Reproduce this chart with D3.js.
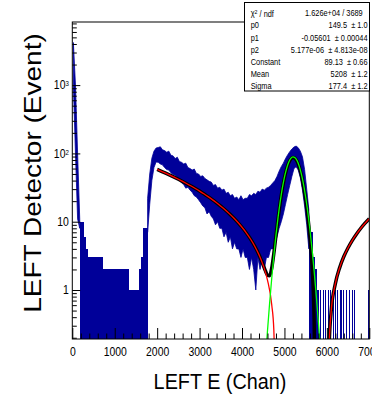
<!DOCTYPE html>
<html>
<head>
<script src="https://d3js.org/d3.v7.min.js"></script>
<style>
  body { margin: 0; background: #fff; }
  text { font-family: "Liberation Sans", Arial, sans-serif; fill: #000; white-space: pre; }
</style>
</head>
<body>
<svg width="372" height="395"></svg>
<script>
// histogram, bins of 50 channels from 0 to 7000
// each bin keeps the top and bottom of the drawn band (0 = down to the axis)
const binWidth = 50;
const histHi = [
  4200, 1000, 100, 11, 10, 6, 4, 3, 3, 2,
  3, 2, 3, 3, 2, 2, 2, 1, 2, 2,
  1, 2, 1, 2, 1, 2, 1, 1, 1, 1,
  1, 1, 2, 3, 8, 22, 50, 85, 108, 120,
  122, 125, 113, 110, 104, 108, 94, 92, 84, 88,
  76, 74, 70, 72, 62, 60, 57, 59, 51, 50,
  46, 47, 43, 41, 39, 38, 34, 35, 31, 32,
  29, 30, 26, 27, 24, 25, 22, 23, 21, 24,
  21, 22, 22, 25, 24, 26, 25, 28, 27, 30,
  29, 31, 32, 34, 37, 40, 46, 55, 64, 72,
  84, 95, 106, 116, 124, 128, 121, 108, 89, 58,
  30, 15, 7, 3, 2, 1, 0, 0, 0, 0,
  0, 0, 0, 0, 0, 0, 0, 0, 0, 0,
  0, 0, 0, 0, 0, 0, 0, 0, 0, 0
];
const histLo = [
  1000, 100, 11, 8, 0, 0, 0, 0, 0, 0,
  0, 0, 0, 0, 0, 0, 0, 0, 0, 0,
  0, 0, 0, 0, 0, 0, 0, 0, 0, 0,
  0, 0, 0, 0, 0, 7, 18, 40, 62, 75,
  74, 70, 68, 62, 58, 57, 52, 49, 48, 44,
  40, 37, 35, 31, 32, 29, 27, 24, 23, 21,
  19, 17, 16, 13, 14, 12, 11, 9, 10, 8,
  8, 6, 7, 5, 6, 4, 5, 4, 4, 3,
  4, 3, 3, 2, 3, 2, 1, 3, 2, 3,
  2, 3, 3, 4, 4, 5, 6, 8, 10, 13,
  18, 25, 34, 46, 60, 64, 57, 44, 29, 17,
  9, 4, 0, 0, 0, 0, 0, 0, 0, 0,
  0, 0, 0, 0, 0, 0, 0, 0, 0, 0,
  0, 0, 0, 0, 0, 0, 0, 0, 0, 0
];
// single counts after the peak (channel)
const sparseHits = [5790, 5840, 5900, 5960, 6020, 6080, 6150, 6200, 6240, 6300,
  6340, 6390, 6450, 6530, 6590, 6650, 6980];

// fit functions [channel, value]
const pol2Left = [[2000,58.19],[2100,54.71],[2200,51.34],[2300,48.06],[2400,44.90],[2500,41.83],
  [2600,38.87],[2700,36.01],[2800,33.26],[2900,30.61],[3000,28.06],[3100,25.62],[3200,23.28],
  [3300,21.05],[3400,18.91],[3500,16.88],[3600,14.96],[3700,13.14],[3800,11.42],[3900,9.80],
  [4000,8.29],[4100,6.88],[4200,5.58],[4300,4.38],[4400,3.28],[4500,2.29],[4600,1.40],
  [4700,0.61],[4750,0.26],[4780,0.06]];
const pol2Right = [[6040,0.065],[6050,0.13],[6100,0.48],[6200,1.24],[6300,2.11],[6400,3.09],
  [6500,4.16],[6600,5.34],[6700,6.63],[6800,8.02],[6900,9.51],[7000,11.10]];
const gausCurve = [[4550,0.092],[4600,0.251],[4650,0.633],[4700,1.477],[4750,3.181],[4800,6.328],
  [4850,11.63],[4900,19.74],[4950,30.95],[5000,44.82],[5050,59.95],[5100,74.05],[5150,84.49],
  [5200,89.04],[5250,86.67],[5300,77.91],[5350,64.70],[5400,49.62],[5450,35.15],[5500,23.00],
  [5550,13.90],[5600,7.76],[5650,4.00],[5700,1.905],[5750,0.838],[5800,0.340],[5850,0.128]];
const totalLeft = [[2000,58.19],[2100,54.71],[2200,51.34],[2300,48.06],[2400,44.90],[2500,41.83],
  [2600,38.87],[2700,36.01],[2800,33.26],[2900,30.61],[3000,28.06],[3100,25.62],[3200,23.28],
  [3300,21.05],[3400,18.91],[3500,16.88],[3600,14.96],[3700,13.14],[3800,11.42],[3900,9.80],
  [4000,8.29],[4100,6.88],[4200,5.58],[4300,4.38],[4400,3.28],[4450,2.78],[4500,2.32],
  [4550,1.92],[4600,1.65],[4650,1.62],[4700,2.09],[4750,3.44],[4800,6.26],[4850,11.26],
  [4900,19.09],[4950,30.05],[5000,43.70],[5050,58.62],[5100,72.55],[5150,82.85],[5200,87.27],
  [5250,84.81],[5300,75.98],[5350,62.73],[5400,47.63],[5450,33.17],[5500,21.05],[5550,12.01],
  [5600,5.95],[5650,2.31],[5700,0.345],[5710,0.10]];
const totalRight = pol2Right;

// axis ticks
const xTicks = [0, 1000, 2000, 3000, 4000, 5000, 6000, 7000];
const yTicks = [1, 10, 100, 1000];

// stats box
const statLabels = ["χ2 / ndf", "p0", "p1", "p2", "Constant", "Mean", "Sigma"];
const statValues = ["1.626e+04 / 3689", "149.5  ± 1.0", "-0.05601  ± 0.00044",
  "5.177e-06  ± 4.813e-08", "89.13  ± 0.66", "5208  ± 1.2", "177.4  ± 1.2"];

const blue = '#000099';
const fLeft = 72.3, fRight = 369.3, fTop = 22, fBottom = 339;
const squeeze = 0.87;

const svg = d3.select('svg');

const x = d3.scaleLinear().domain([0, 7000]).range([fLeft, fRight]);
const y = d3.scaleLog().domain([0.1917, 8395]).range([fBottom, fTop]);

svg.append('clipPath').attr('id', 'frame')
  .append('rect').attr('x', fLeft).attr('y', fTop)
  .attr('width', fRight - fLeft).attr('height', fBottom - fTop);

const plot = svg.append('g').attr('clip-path', 'url(#frame)');

// histogram
const bins = histHi.map((h, i) => ({ x0: i * binWidth, hi: h, lo: histLo[i] }));

// bins that reach zero: filled down to the axis
plot.selectAll('rect.bin')
  .data(bins.filter(d => d.hi > 0 && d.lo === 0))
  .enter()
  .append('rect')
  .attr('x', d => x(d.x0 - binWidth / 2))
  .attr('width', d => x(d.x0 + binWidth * 1.5) - x(d.x0 - binWidth / 2))
  .attr('y', d => y(d.hi))
  .attr('height', d => fBottom - y(d.hi))
  .attr('fill', blue)
  .attr('shape-rendering', 'crispEdges');

// busy part: band between the lower and upper edge
const band = d3.area()
  .defined(d => d.lo > 0)
  .x(d => x(d.x0 + binWidth / 2))
  .y0(d => y(d.lo))
  .y1(d => y(d.hi));

plot.append('path')
  .attr('d', band(bins))
  .attr('fill', blue)
  .attr('stroke', blue)
  .attr('stroke-width', 0.8);

plot.selectAll('line.hit')
  .data(sparseHits)
  .enter()
  .append('line')
  .attr('x1', d => Math.round(x(d)) + 0.5)
  .attr('x2', d => Math.round(x(d)) + 0.5)
  .attr('y1', y(1))
  .attr('y2', fBottom)
  .attr('stroke', blue)
  .attr('stroke-width', 1);

// fits
const line = d3.line()
  .x(d => x(d[0]))
  .y(d => y(d[1]))
  .curve(d3.curveMonotoneX);

[totalLeft, totalRight].forEach(c => {
  plot.append('path').attr('d', line(c))
    .attr('fill', 'none').attr('stroke', '#000').attr('stroke-width', 3.5);
});
[pol2Left, pol2Right].forEach(c => {
  plot.append('path').attr('d', line(c))
    .attr('fill', 'none').attr('stroke', '#ff0000').attr('stroke-width', 1.3);
});
plot.append('path').attr('d', line(gausCurve))
  .attr('fill', 'none').attr('stroke', '#00ff00').attr('stroke-width', 1.3);

// frame
svg.append('rect')
  .attr('x', fLeft).attr('y', fTop)
  .attr('width', fRight - fLeft).attr('height', fBottom - fTop)
  .attr('fill', 'none').attr('stroke', '#000').attr('stroke-width', 1);

// x axis
const xAxis = svg.append('g')
  .attr('transform', `translate(0, ${fBottom})`)
  .call(d3.axisBottom(x).tickValues(xTicks).tickFormat(d3.format('d'))
    .tickSizeInner(-11).tickSizeOuter(0).tickPadding(8));
svg.append('g')
  .attr('transform', `translate(0, ${fBottom})`)
  .call(d3.axisBottom(x).tickValues(d3.range(200, 7000, 200).filter(v => v % 1000))
    .tickFormat('').tickSizeInner(-5.5).tickSizeOuter(0))
  .call(g => g.select('.domain').remove());
xAxis.select('.domain').remove();
xAxis.selectAll('text')
  .attr('font-size', '12px')
  .attr('font-family', '"Liberation Sans", Arial, sans-serif')
  .attr('transform', `scale(${squeeze},1)`);

// y axis
const yAxis = svg.append('g')
  .attr('transform', `translate(${fLeft}, 0)`)
  .call(d3.axisLeft(y).tickValues(yTicks).tickFormat(d => d >= 100 ? '10' : String(d))
    .tickSizeInner(-8).tickSizeOuter(0).tickPadding(4));
yAxis.select('.domain').remove();
yAxis.selectAll('text')
  .attr('font-size', '12px')
  .attr('font-family', '"Liberation Sans", Arial, sans-serif')
  .attr('transform', `scale(${squeeze},1)`)
  .filter(d => d >= 100)
  .append('tspan')
  .attr('dy', '-0.45em')
  .attr('font-size', '7px')
  .text(d => d === 100 ? '2' : '3');

const yMinor = [];
[0.1, 1, 10, 100, 1000].forEach(dec => {
  for (let k = 2; k <= 9; k++) yMinor.push(k * dec);
});
svg.append('g')
  .attr('transform', `translate(${fLeft}, 0)`)
  .call(d3.axisLeft(y).tickValues(yMinor.filter(v => v <= 8395 && v >= 0.19))
    .tickFormat('').tickSizeInner(-4.5).tickSizeOuter(0))
  .call(g => g.select('.domain').remove());

// axis titles
svg.append('text')
  .attr('transform', `translate(220, 389) scale(0.88,1)`)
  .attr('text-anchor', 'middle')
  .style('font-size', '22.5px')
  .text('LEFT E (Chan)');

svg.append('text')
  .attr('transform', `translate(41, 173) rotate(-90) scale(1,${squeeze})`)
  .attr('text-anchor', 'middle')
  .style('font-size', '28px')
  .text('LEFT Detector (Event)');

// stats box
svg.append('rect')
  .attr('x', 244.5).attr('y', 2.5)
  .attr('width', 125).attr('height', 88.5)
  .attr('fill', '#fff').attr('stroke', '#000').attr('stroke-width', 1);

statLabels.forEach((lab, i) => {
  const yb = 16.3 + i * 12.1;
  const t = svg.append('text')
    .attr('transform', `translate(250.7, ${yb}) scale(${squeeze},1)`)
    .style('font-size', '8.5px');
  if (i === 0) {
    t.append('tspan').text('χ');
    t.append('tspan').attr('dy', '-0.4em').style('font-size', '6px').text('2');
    t.append('tspan').attr('dy', '0.4em').text(' / ndf');
  } else {
    t.text(lab);
  }
  svg.append('text')
    .attr('transform', `translate(${i === 0 ? 362.7 : 367.5}, ${yb}) scale(${squeeze},1)`)
    .attr('text-anchor', 'end')
    .style('font-size', '8.5px')
    .text(statValues[i]);
});
</script>
</body>
</html>
